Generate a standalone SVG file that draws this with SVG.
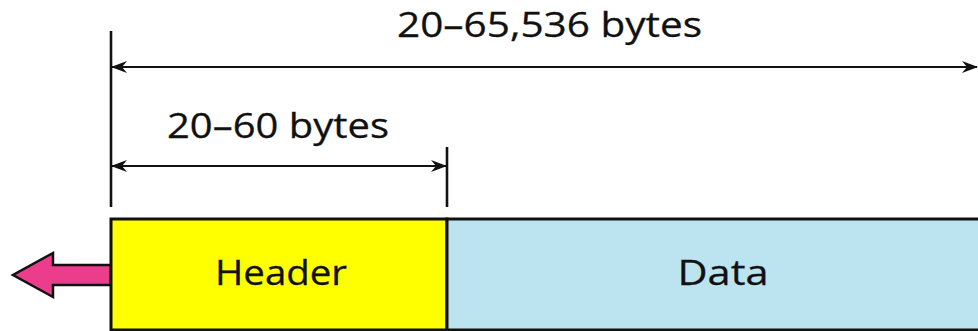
<svg xmlns="http://www.w3.org/2000/svg" width="978" height="331" viewBox="0 0 978 331">
<style>
.lbl{font-family:"Open Sans","Liberation Sans",sans-serif;font-size:34.5px;fill:#111;stroke:#111;stroke-width:0.3}
.dim{stroke:#111;stroke-width:2.2;fill:none}
.tick{stroke:#111;stroke-width:2.6;fill:none}
.box{stroke:#111;stroke-width:3}
</style>
<defs>
<marker id="ah" viewBox="0 0 16 12" refX="15" refY="6" markerWidth="16" markerHeight="12" markerUnits="userSpaceOnUse" orient="auto-start-reverse">
<path d="M0,0 L16,6 L0,12 L5,6 Z" fill="#111"/>
</marker>
</defs>
<rect width="978" height="331" fill="#fff"/>
<g id="connectors">
<line class="tick" x1="111" y1="31" x2="111" y2="207"/>
<line class="tick" x1="447" y1="147" x2="447" y2="207"/>
<line class="dim" x1="112" y1="67" x2="977" y2="67" marker-start="url(#ah)" marker-end="url(#ah)"/>
<line class="dim" x1="112" y1="166" x2="446" y2="166" marker-start="url(#ah)" marker-end="url(#ah)"/>
<path id="out-arrow" d="M111,265 L53,265 L53,253 L13,275 L53,297 L53,285 L111,285 Z" fill="#EC3D8C" stroke="#111" stroke-width="2.5" stroke-linejoin="miter"/>
</g>
<g id="header">
<rect class="box" x="111" y="219" width="336" height="111" fill="#FFFF00"/>
<text class="lbl" x="281" y="285" text-anchor="middle" textLength="132" lengthAdjust="spacingAndGlyphs">Header</text>
</g>
<g id="data">
<rect class="box" x="447" y="219" width="540" height="111" fill="#BCE4F0"/>
<text class="lbl" x="723" y="285" text-anchor="middle" textLength="91" lengthAdjust="spacingAndGlyphs">Data</text>
</g>
<g id="labels">
<text class="lbl" x="549.5" y="37" text-anchor="middle" textLength="305" lengthAdjust="spacingAndGlyphs">20–65,536 bytes</text>
<text class="lbl" x="278" y="138" text-anchor="middle" textLength="222" lengthAdjust="spacingAndGlyphs">20–60 bytes</text>
</g>
</svg>
